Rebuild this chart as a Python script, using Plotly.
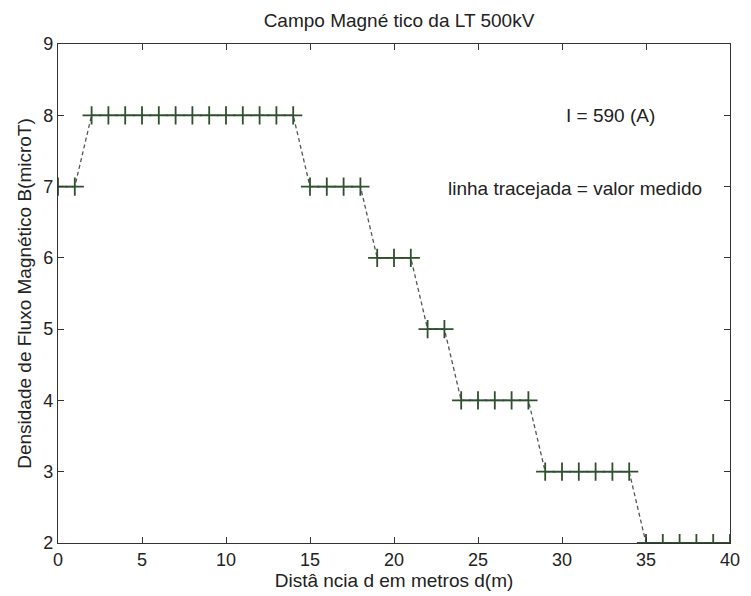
import plotly.graph_objects as go

distancia = list(range(0, 41))
campo_b = [7, 7] + [8]*13 + [7]*4 + [6]*3 + [5]*2 + [4]*5 + [3]*6 + [2]*6

x_ticks = [0, 5, 10, 15, 20, 25, 30, 35, 40]
y_ticks = [2, 3, 4, 5, 6, 7, 8, 9]

# horizontal (flat) segments drawn from data
fx, fy = [], []
for i in range(len(distancia) - 1):
    if campo_b[i] == campo_b[i + 1]:
        fx += [distancia[i], distancia[i + 1], None]
        fy += [campo_b[i], campo_b[i + 1], None]

green = "#2f4f2f"
fig = go.Figure()
fig.add_trace(go.Scatter(x=distancia, y=campo_b, mode="lines",
                         line=dict(color="#555555", width=1.3, dash="4px,3px"),
                         showlegend=False, hoverinfo="skip"))
fig.add_trace(go.Scatter(x=fx, y=fy, mode="lines",
                         line=dict(color=green, width=1.4),
                         showlegend=False, hoverinfo="skip"))
fig.add_trace(go.Scatter(x=distancia, y=campo_b, mode="markers",
                         marker=dict(symbol="cross-thin", size=13,
                                     line=dict(color=green, width=1.8)),
                         showlegend=False))

font = "Liberation Sans, Arial, sans-serif"
fig.update_layout(
    width=751, height=596,
    margin=dict(l=58, r=11, t=44, b=48),
    paper_bgcolor="white", plot_bgcolor="white",
    font=dict(family=font, size=18, color="#222222"),
    title=dict(text="Campo Magné tico da LT 500kV", x=(58 + 740) / 2 / 751, xanchor="center",
               y=1 - 20/596, yanchor="middle", font=dict(size=19, color="#222222")),
    showlegend=False,
    annotations=[
        dict(x=32.9, y=8, xref="x", yref="y", text="I = 590 (A)", showarrow=False,
             font=dict(size=19, color="#222222")),
        dict(x=30.8, y=6.98, xref="x", yref="y", text="linha tracejada = valor medido",
             showarrow=False, font=dict(size=19, color="#222222")),
    ],
)
fig.update_xaxes(range=[0, 40], tickvals=x_ticks, ticks="inside", ticklen=6,
                 tickcolor="#333333", showline=True, linecolor="#333333", linewidth=1.2,
                 mirror="ticks", showgrid=False, zeroline=False,
                 title=dict(text="Distâ ncia d em metros d(m)", standoff=2,
                            font=dict(size=19)),
                 tickfont=dict(size=18))
fig.update_yaxes(range=[2, 9], tickvals=y_ticks, ticks="inside", ticklen=6,
                 tickcolor="#333333", showline=True, linecolor="#333333", linewidth=1.2,
                 mirror="ticks", showgrid=False, zeroline=False,
                 title=dict(text="Densidade de Fluxo Magnético B(microT)", standoff=6,
                            font=dict(size=19)),
                 tickfont=dict(size=18))

fig.write_html("out.html")
